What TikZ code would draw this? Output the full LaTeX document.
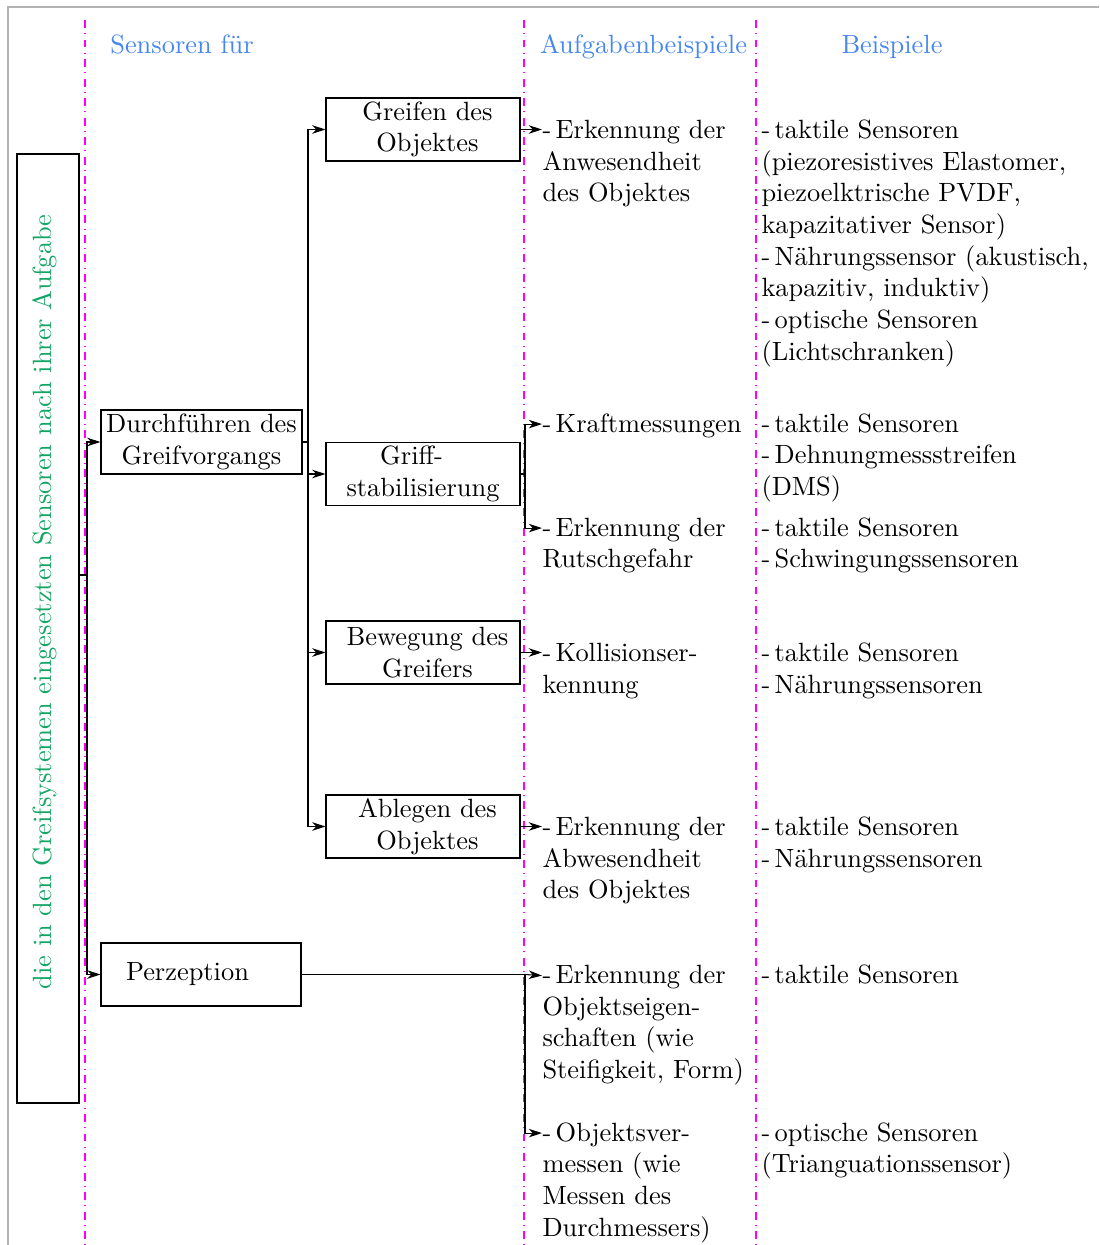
\documentclass[tikz,border=0pt]{standalone}
\usetikzlibrary{arrows.meta}
\definecolor{hdrblue}{RGB}{70,135,240}
\definecolor{lblgreen}{RGB}{20,165,100}
\definecolor{sepmag}{RGB}{255,0,255}
\newcommand{\pxu}{0.3788pt}
\newcommand{\lsh}{\hspace*{3.4pt}}
\begin{document}
\begin{tikzpicture}[x=0.3788pt, y=-0.3788pt,
  sep/.style={sepmag, dash dot},
  hdr/.style={anchor=base, inner sep=0pt, text=hdrblue},
  box/.style={draw, inner sep=1pt, align=center, minimum width=194*\pxu, minimum height=63*\pxu},
  wbox/.style={draw, inner sep=1pt, align=center, minimum width=201*\pxu, minimum height=64*\pxu},
  arr/.style={-{Stealth[length=5pt,width=3.2pt,inset=1.5pt]}},
  mtxt/.style={anchor=base west, inner sep=0pt, text width=215*\pxu, align=left},
  rtxt/.style={anchor=base west, inner sep=0pt, text width=340*\pxu, align=left}]
\useasboundingbox (0,0) rectangle (1099,1245);

% outer frame
\draw[gray!60, line width=0.6pt] (8,1245) -- (8,7) -- (1099,7);

% column separators
\foreach \xx in {85,524,756} \draw[sep] (\xx,20) -- (\xx,1245);

% column headers
\node[hdr] (h1) at (182,54) {Sensoren für};
\node[hdr] (h2) at (643.5,54) {Aufgabenbeispiele};
\node[hdr] (h3) at (892,54) {Beispiele};

% category box with vertical label
\node[draw, inner sep=0pt, minimum width=62*\pxu, minimum height=949*\pxu] (cat) at (48,628.5) {};
\node[rotate=90, inner sep=0pt, text=lblgreen] (catlbl) at (45,602)
  {die in den Greifsystemen eingesetzten Sensoren nach ihrer Aufgabe};

% first level
\node[wbox] (dg) at (201.5,442) {Durchführen des\\Greifvorgangs};
\node[draw, inner ysep=1pt, inner xsep=25*\pxu, text width=150*\pxu, align=left,
      minimum height=63*\pxu] (pz) at (201,974.5) {Perzeption};

% second level
\node[box] (gr) at (423,129.5) {\lsh Greifen des\\\lsh Objektes};
\node[box] (gs) at (423,474) {Griff-\hspace*{8.7pt}\\stabilisierung};
\node[box] (bw) at (423,652.5) {\lsh Bewegung des\\\lsh Greifers};
\node[box] (ab) at (423,826.5) {\lsh Ablegen des\\\lsh Objektes};

% task examples
\node[mtxt] (a1) at (542,138.5) {-\,Erkennung der\\Anwesendheit\\des Objektes};
\node[mtxt] (a2) at (542,432) {-\,Kraftmessungen};
\node[mtxt] (a3) at (542,536) {-\,Erkennung der\\Rutschgefahr};
\node[mtxt] (a4) at (542,661.5) {-\,Kollisionser-\\kennung};
\node[mtxt] (a5) at (542,835.5) {-\,Erkennung der\\Abwesendheit\\des Objektes};
\node[mtxt] (a6) at (542,983.5) {-\,Erkennung der\\Objektseigen-\\schaften (wie\\Steifigkeit, Form)};
\node[mtxt] (a7) at (542,1141) {-\,Objektsver-\\messen (wie\\Messen des\\Durchmessers)};

% sensor examples
\node[rtxt] (b1) at (761,138.5) {-\,taktile Sensoren\\(piezoresistives Elastomer,\\piezoelktrische PVDF,\\kapazitativer Sensor)\\-\,Nährungssensor (akustisch,\\kapazitiv, induktiv)\\-\,optische Sensoren\\(Lichtschranken)};
\node[rtxt] (b2) at (761,432) {-\,taktile Sensoren\\-\,Dehnungmessstreifen\\(DMS)};
\node[rtxt] (b3) at (761,536) {-\,taktile Sensoren\\-\,Schwingungssensoren};
\node[rtxt] (b4) at (761,661.5) {-\,taktile Sensoren\\-\,Nährungssensoren};
\node[rtxt] (b5) at (761,835.5) {-\,taktile Sensoren\\-\,Nährungssensoren};
\node[rtxt] (b6) at (761,983.5) {-\,taktile Sensoren};
\node[rtxt] (b7) at (761,1141) {-\,optische Sensoren\\(Trianguationssensor)};

% junction points
\coordinate (j0) at (87,575);
\coordinate (j1) at (308,442);
\coordinate (j2) at (525,474);
\coordinate (c525) at (525,0);

% category to first level
\draw (cat.east |- j0) -- (j0);
\draw[arr] (j0) |- (dg.west);
\draw[arr] (j0) |- (pz.west);

% grasp execution to second level
\draw (dg.east) -- (j1);
\draw[arr] (j1) |- (gr.west);
\draw[arr] (j1) |- (gs.west);
\draw[arr] (j1) |- (bw.west);
\draw[arr] (j1) |- (ab.west);

% second level to task examples
\draw[arr] (gr.east) -- (gr.east -| a1.west);
\draw (gs.east) -- (j2);
\draw[arr] (j2) |- ([yshift=3pt]a2.base west);
\draw[arr] (j2) |- ([yshift=3pt]a3.base west);
\draw[arr] (bw.east) -- (bw.east -| a4.west);
\draw[arr] (ab.east) -- (ab.east -| a5.west);

% perception to task examples
\draw (pz.east) -- (pz.east -| c525) coordinate (j5);
\draw[arr] (j5) -- ([yshift=3pt]a6.base west);
\draw[arr] (j5) |- ([yshift=3pt]a7.base west);
\end{tikzpicture}
\end{document}
